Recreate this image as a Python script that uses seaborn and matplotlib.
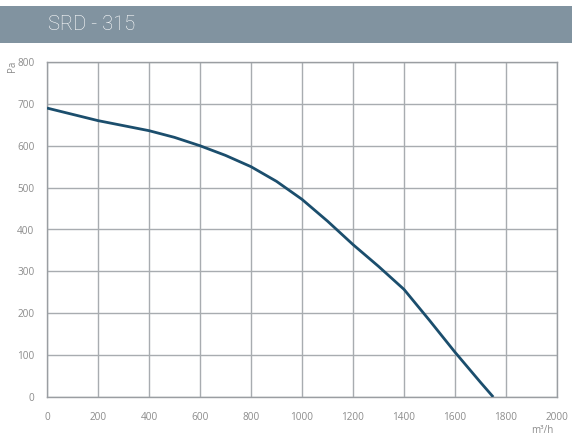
import matplotlib
matplotlib.use("Agg")
import matplotlib.pyplot as plt
import seaborn as sns
import pandas as pd
from matplotlib.patches import Rectangle

# Data
airflow = [0, 100, 200, 300, 400, 500, 600, 700, 800, 900, 1000, 1100, 1200, 1300, 1400, 1500, 1600, 1700, 1750]
pressure = [690, 675, 660, 648, 636, 620, 600, 577, 550, 515, 472, 420, 364, 312, 257, 183, 107, 35, 0]
x_ticks = [0, 200, 400, 600, 800, 1000, 1200, 1400, 1600, 1800, 2000]
y_ticks = [0, 100, 200, 300, 400, 500, 600, 700, 800]
title = "SRD - 315"

df = pd.DataFrame({"airflow": airflow, "pressure": pressure})

sns.set_style("white")
plt.rcParams['font.family'] = ['Open Sans', 'DejaVu Sans']

fig = plt.figure(figsize=(5.72, 4.36), dpi=100)
ax = fig.add_axes([47/572, 1-397/436, (557-47)/572, (397-62)/436])

# Header band
fig.patches.append(Rectangle((0, 1-43/436), 1, 37/436, transform=fig.transFigure,
                             facecolor="#8193a0", edgecolor="none", zorder=0))
fig.text(48/572, 1-25/436, title, color="white", fontsize=14.5, family=['Roboto', 'DejaVu Sans'],
         fontweight="light", ha="left", va="center")

sns.lineplot(data=df, x="airflow", y="pressure", ax=ax, color="#1b4e6d", linewidth=2.0, zorder=3,
             solid_joinstyle="round", solid_capstyle="butt")

ax.set_xlim(0, 2000)
ax.set_ylim(0, 800)
ax.set_xticks(x_ticks)
ax.set_yticks(y_ticks)
ax.grid(True, color="#a8acb0", linewidth=1.0)
for s in ax.spines.values():
    s.set_color("#9a9ea2")
    s.set_linewidth(1.0)
ax.tick_params(axis="both", length=0, labelsize=7.2, labelcolor="#8c8c8c")
ax.tick_params(axis="x", pad=11)
ax.tick_params(axis="y", pad=9)
ax.set_xlabel("")
ax.set_ylabel("")

fig.text(553/572, 1-430/436, "m³/h", color="#8c8c8c", fontsize=7, ha="right", va="center")
fig.text(12/572, 1-66/436, "Pa", color="#8c8c8c", fontsize=7, ha="center", va="center", rotation=90)

fig.savefig("out.png", dpi=100)
